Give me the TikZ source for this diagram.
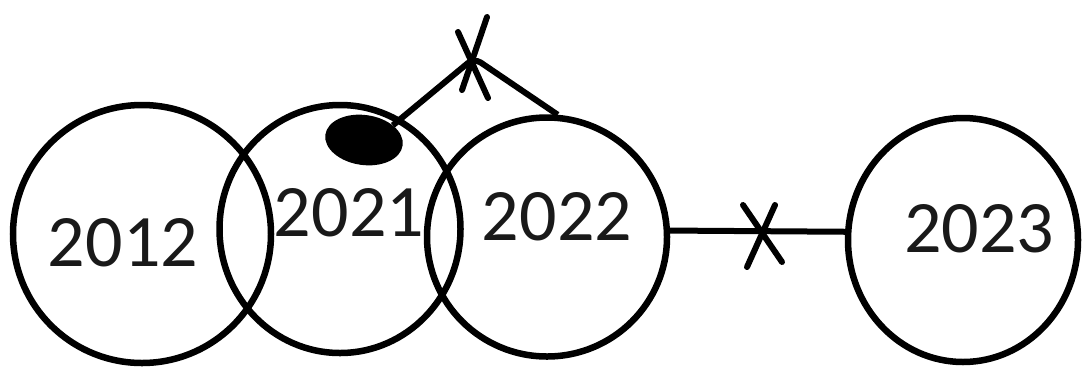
\documentclass[tikz,border=0pt]{standalone}
\usepackage{fontspec}
\setmainfont{Carlito}
\usetikzlibrary{shapes.geometric}
\begin{document}
\begin{tikzpicture}[x=1pt,y=-1pt,
  ring/.style={draw=black,ellipse,line width=6.5pt,inner sep=0pt},
  yeartext/.style={text=black!90,font=\fontsize{74}{80}\selectfont,inner sep=0pt},
  conn/.style={draw=black,line width=6pt},
  cross/.style={draw=black,line width=6pt,line cap=round}]
\useasboundingbox (0,0) rectangle (1084,376);
\node[ring,minimum width=258pt,minimum height=258pt] (c2012) at (142,234) {};
\node[ring,minimum width=241pt,minimum height=248pt] (c2021) at (340,229) {};
\node[ring,minimum width=240pt,minimum height=239pt] (c2022) at (547,237) {};
\node[ring,minimum width=230pt,minimum height=244pt] (c2023) at (963,240) {};
\node[yeartext] (t2012) at (123,243) {2012};
\node[yeartext] (t2021) at (349,213) {2021};
\node[yeartext] (t2022) at (557,217) {2022};
\node[yeartext] (t2023) at (979,229) {2023};
\node[ellipse,fill=black,inner sep=0pt,minimum width=78pt,minimum height=50pt,rotate=-8] (blob) at (364,140) {};
\coordinate (apex) at (474,58);
\coordinate (cut) at (762,235);
\draw[conn,rounded corners=8pt] (blob.35) -- (apex) -- (c2022.85);
\draw[conn] (c2022.3) -- (c2023.176);
\draw[cross] (apex) ++(13,-41) -- ++(-25,73);
\draw[cross] (apex) ++(-16,-26) -- ++(30,66);
\draw[cross] (cut) ++(-19,-30) -- ++(39,57);
\draw[cross] (cut) ++(13,-30) -- ++(-28,62);
\end{tikzpicture}
\end{document}
